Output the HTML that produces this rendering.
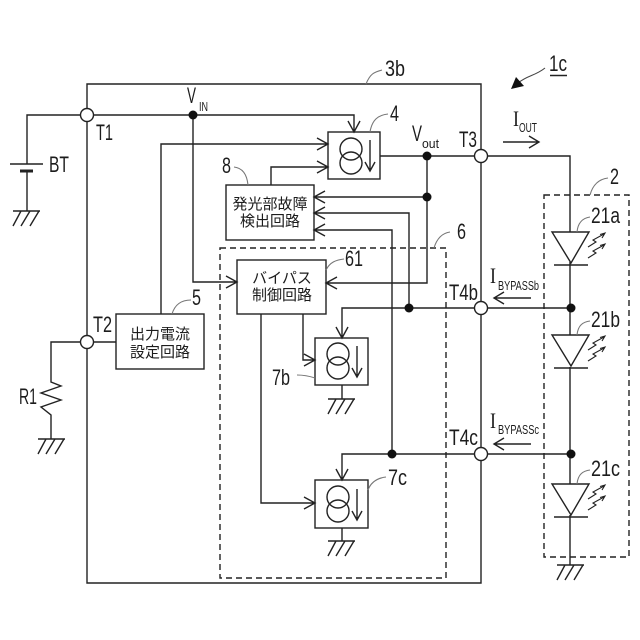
<!DOCTYPE html>
<html><head><meta charset="utf-8"><style>
html,body{margin:0;padding:0;background:#fff}
svg{display:block}
text{font-family:"Liberation Sans","Noto Sans CJK JP",sans-serif;fill:#1c1c1c}
.l{fill:none;stroke:#222;stroke-width:1.4}
.d{fill:none;stroke:#222;stroke-width:1.4;stroke-dasharray:6 4}
.g{fill:none;stroke:#777;stroke-width:1.1}
.j{font-size:15px;text-anchor:middle}
.w{fill:#fff;stroke:#222;stroke-width:1.4}
.n{fill:#111}
</style></head><body>
<svg width="640" height="640" viewBox="0 0 640 640" xmlns="http://www.w3.org/2000/svg">
<defs>
<g id="gnd" class="l"><path d="M-14 0H13M-6 0L-14 15M3 0L-6 15M12 0L3 15"/></g>
<g id="cs"><circle cx="0" cy="-7" r="11" class="l"/><circle cx="0" cy="7" r="11" class="l"/></g>
<g id="ar" class="l"><path d="M0 -15V16M-5 7L0 16L5 7"/></g>
<g id="led">
<path d="M-19 0H18L0 31Z" class="l"/><path d="M-17 33H17" class="l"/>
<path d="M17 15L25 10L22 8L33 2M29 2.500L34 1L31 6" fill="none" stroke="#222" stroke-width="1.100"/>
<path d="M17 26L25 21L22 19L33 13M29 13.500L34 12L31 17" fill="none" stroke="#222" stroke-width="1.100"/>
</g>
</defs>

<!-- main frame -->
<path class="l" d="M87 84H481V583H87Z"/>
<!-- dashed -->
<path class="d" d="M220 248H446V578H220Z"/>
<path class="d" d="M544 195H629V557H544Z"/>

<!-- BT -->
<path class="l" d="M87 115H27V164M10 164H43M27 171V211"/>
<path d="M20 171H33" stroke="#222" stroke-width="3"/>
<use href="#gnd" x="27" y="211"/>

<!-- VIN rail -->
<path class="l" d="M87 115H354V131M348 121L354 132L360 121"/>
<path class="l" d="M193 115V282H236M226 276L237 282L226 288"/>

<!-- 5 -->
<path class="l" d="M161 314V144H327M317 138L328 144L317 150"/>
<rect class="l" x="116" y="314" width="88" height="55"/>
<text class="j" x="160" y="339">出力電流</text>
<text class="j" x="160" y="357">設定回路</text>
<!-- T2 / R1 -->
<path class="l" d="M116 342H51V382L61 386L41 393L61 400L41 407L51 415V439"/>
<use href="#gnd" x="52" y="439"/>

<!-- 4 -->
<rect class="l" x="328" y="132" width="52" height="47"/>
<use href="#cs" x="351" y="156"/>
<use href="#ar" x="370" y="155"/>
<path class="l" d="M380 156H570V232"/>

<!-- 8 -->
<rect class="l" x="226" y="185" width="88" height="55"/>
<path class="l" d="M271 185V167H327M317 161L328 167L317 173"/>
<text class="j" x="270" y="209">発光部故障</text>
<text class="j" x="270" y="226">検出回路</text>
<path class="l" d="M427 156V283H327M337 277L326 283L337 289"/>
<path class="l" d="M427 197H315M325 191L314 197L325 203"/>
<path class="l" d="M409 308V213H315M325 207L314 213L325 219"/>
<path class="l" d="M392 454V230H315M325 224L314 230L325 236"/>

<!-- 61 -->
<rect class="l" x="237" y="260" width="89" height="54"/>
<text class="j" x="282" y="283">バイパス</text>
<text class="j" x="282" y="300">制御回路</text>
<path class="l" d="M303 314V360H314M304 354L315 360L304 366"/>
<path class="l" d="M261 314V503H314M304 497L315 503L304 509"/>

<!-- 7b -->
<rect class="l" x="315" y="338" width="53" height="47"/>
<use href="#cs" x="338" y="361"/>
<use href="#ar" x="357" y="361"/>
<path class="l" d="M570 308H342V337M336 327L342 338L348 327M342 385V399"/>
<use href="#gnd" x="342" y="399"/>

<!-- 7c -->
<rect class="l" x="315" y="480" width="53" height="48"/>
<use href="#cs" x="338" y="504"/>
<use href="#ar" x="357" y="504"/>
<path class="l" d="M570 454H342V479M336 469L342 480L348 469M342 528V541"/>
<use href="#gnd" x="342" y="541"/>

<!-- LED string -->
<path class="l" d="M570 262V335M570 367V484M570 515V565"/>
<use href="#led" x="571" y="232"/>
<use href="#led" x="571" y="335"/>
<use href="#led" x="571" y="484"/>
<use href="#gnd" x="571" y="565"/>

<!-- terminals -->
<circle class="w" cx="87" cy="115" r="6.500"/>
<circle class="w" cx="87" cy="342" r="6.500"/>
<circle class="w" cx="481" cy="156" r="6.500"/>
<circle class="w" cx="481" cy="308" r="6.500"/>
<circle class="w" cx="481" cy="454" r="6.500"/>
<!-- nodes -->
<circle class="n" cx="193" cy="115" r="4.500"/>
<circle class="n" cx="427" cy="156" r="4.500"/>
<circle class="n" cx="427" cy="197" r="4.500"/>
<circle class="n" cx="409" cy="308" r="4.500"/>
<circle class="n" cx="392" cy="454" r="4.500"/>
<circle class="n" cx="571" cy="308" r="4.500"/>
<circle class="n" cx="571" cy="454" r="4.500"/>

<!-- current arrows -->
<path class="l" d="M503 142H538M529 136L539 142L529 148"/>
<path class="l" d="M531 298H495M504 292L494 298L504 304"/>
<path class="l" d="M531 444H495M504 438L494 444L504 450"/>

<!-- 1c arrow -->
<path class="g" style="stroke:#444" d="M545 68C535 76 528 75 518 83"/>
<path d="M511 89L516 77L524 86Z" fill="#111"/>
<path d="M550 75.500H567" stroke="#222" stroke-width="1.400"/>

<!-- leaders -->
<path class="g" d="M366 84C370 74 374 72 382 70"/>
<path class="g" d="M370 132C372 120 378 115 388 114"/>
<path class="g" d="M248 185C247 175 243 168 234 167"/>
<path class="g" d="M326 270C330 262 336 260 344 259"/>
<path class="g" d="M434 248C437 238 443 233 450 232"/>
<path class="g" d="M172 314C175 304 182 300 191 300"/>
<path class="g" d="M297 375C303 375 309 376 315 378"/>
<path class="g" d="M368 490C371 482 378 478 386 477"/>
<path class="g" d="M590 195C593 184 600 179 608 178"/>
<path class="g" d="M577 232C578 222 583 218 590 217"/>
<path class="g" d="M577 335C578 325 583 322 590 321"/>
<path class="g" d="M577 484C578 474 583 471 590 470"/>

<!-- labels -->
<g font-size="22">
<text x="96" y="140" textLength="17" lengthAdjust="spacingAndGlyphs">T1</text>
<text x="49" y="172" textLength="20" lengthAdjust="spacingAndGlyphs">BT</text>
<text x="93" y="332" textLength="19" lengthAdjust="spacingAndGlyphs">T2</text>
<text x="19" y="404" textLength="18" lengthAdjust="spacingAndGlyphs">R1</text>
<text x="459" y="147" textLength="18" lengthAdjust="spacingAndGlyphs">T3</text>
<text x="449" y="300" textLength="29" lengthAdjust="spacingAndGlyphs">T4b</text>
<text x="449" y="445" textLength="29" lengthAdjust="spacingAndGlyphs">T4c</text>
<text x="385" y="76" textLength="20" lengthAdjust="spacingAndGlyphs">3b</text>
<text x="549" y="71" textLength="18" lengthAdjust="spacingAndGlyphs">1c</text>
<text x="390" y="121" textLength="9" lengthAdjust="spacingAndGlyphs">4</text>
<text x="222" y="173" textLength="9" lengthAdjust="spacingAndGlyphs">8</text>
<text x="345" y="266" textLength="18" lengthAdjust="spacingAndGlyphs">61</text>
<text x="457" y="239" textLength="9" lengthAdjust="spacingAndGlyphs">6</text>
<text x="192" y="305" textLength="9" lengthAdjust="spacingAndGlyphs">5</text>
<text x="272" y="385" textLength="18" lengthAdjust="spacingAndGlyphs">7b</text>
<text x="388" y="485" textLength="19" lengthAdjust="spacingAndGlyphs">7c</text>
<text x="610" y="184" textLength="9" lengthAdjust="spacingAndGlyphs">2</text>
<text x="591" y="223" textLength="29" lengthAdjust="spacingAndGlyphs">21a</text>
<text x="591" y="327" textLength="29" lengthAdjust="spacingAndGlyphs">21b</text>
<text x="591" y="476" textLength="29" lengthAdjust="spacingAndGlyphs">21c</text>
<text x="187" y="103" textLength="9" lengthAdjust="spacingAndGlyphs">V</text>
<text x="412" y="141" textLength="10" lengthAdjust="spacingAndGlyphs">V</text>
</g>
<g font-size="22">
<text x="513" y="126" textLength="6" lengthAdjust="spacingAndGlyphs" style="font-family:'Liberation Serif',serif">I</text>
<text x="490" y="283" textLength="6" lengthAdjust="spacingAndGlyphs" style="font-family:'Liberation Serif',serif">I</text>
<text x="490" y="428" textLength="6" lengthAdjust="spacingAndGlyphs" style="font-family:'Liberation Serif',serif">I</text>
</g>
<g font-size="13">
<text x="199" y="111" textLength="9" lengthAdjust="spacingAndGlyphs">IN</text>
<text x="422" y="148" textLength="17" lengthAdjust="spacingAndGlyphs">out</text>
<text x="519" y="132" textLength="18" lengthAdjust="spacingAndGlyphs">OUT</text>
<text x="498" y="290" textLength="41" lengthAdjust="spacingAndGlyphs">BYPASSb</text>
<text x="498" y="434" textLength="41" lengthAdjust="spacingAndGlyphs">BYPASSc</text>
</g>
</svg>
</body></html>
